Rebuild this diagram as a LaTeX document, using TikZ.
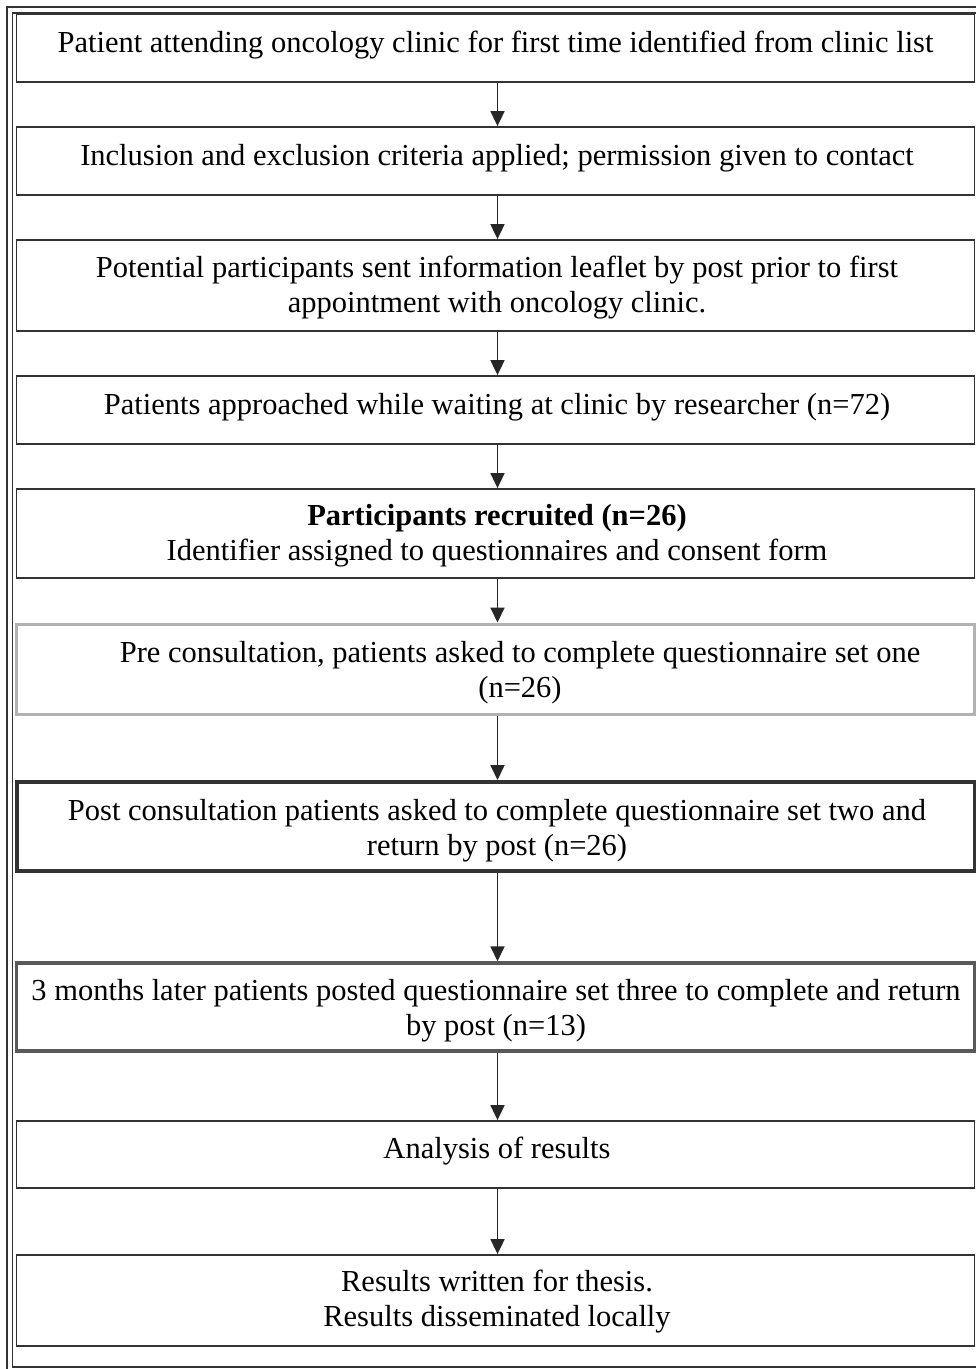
\documentclass[tikz,border=0pt]{standalone}
\usepackage{fontspec}
\setmainfont{Liberation Serif}
\usetikzlibrary{arrows.meta}
\begin{document}
\begin{tikzpicture}[x=1pt,y=-1pt,
  box/.style={draw=black!80,line width=1.8pt,rectangle,minimum width=958pt,inner sep=0pt},
  txt/.style={font=\fontsize{30.5}{35}\selectfont,align=center,inner sep=0pt},
  flow/.style={draw=black!85,line width=1.8pt,-{Triangle[length=15pt,width=14pt]}}]
\useasboundingbox (0,0) rectangle (976,1369);
\fill[white] (0,0) rectangle (976,1369);
% outer double frame
\draw[black!80,line width=1.8pt] (7,7) rectangle (990,1380);
\draw[black!80,line width=1.8pt] (12.5,13) rectangle (984,1367);
% boxes
\node[box,minimum height=68pt] (b1) at (495.5,48) {};
\node[box,minimum height=68pt] (b2) at (495.5,161) {};
\node[box,minimum height=91pt] (b3) at (495.5,285.5) {};
\node[box,minimum height=68pt] (b4) at (495.5,410) {};
\node[box,minimum height=89pt] (b5) at (495.5,533.5) {};
\node[box,draw=black!30,line width=3pt,minimum height=90pt] (b6) at (495.5,669) {};
\node[box,draw=black!80,line width=4pt,minimum height=89pt] (b7) at (495.5,826.5) {};
\node[box,draw=black!65,line width=3.5pt,minimum height=88pt] (b8) at (495.5,1007) {};
\node[box,minimum height=67pt] (b9) at (495.5,1154.5) {};
\node[box,minimum height=91pt] (b10) at (495.5,1300.5) {};
% texts
\node[txt] (t1) at (495.5,45) {Patient attending oncology clinic for first time identified from clinic list};
\node[txt] (t2) at (497,158) {Inclusion and exclusion criteria applied; permission given to contact};
\node[txt] (t3) at (497,288) {Potential participants sent information leaflet by post prior to first\\appointment with oncology clinic.};
\node[txt] (t4) at (497,407) {Patients approached while waiting at clinic by researcher (n=72)};
\node[txt] (t5) at (497,536) {\textbf{Participants recruited (n=26)}\\Identifier assigned to questionnaires and consent form};
\node[txt] (t6) at (520,673) {Pre consultation, patients asked to complete questionnaire set one\\(n=26)};
\node[txt] (t7) at (497,831) {Post consultation patients asked to complete questionnaire set two and\\return by post (n=26)};
\node[txt] (t8) at (496,1011) {3 months later patients posted questionnaire set three to complete and return\\by post (n=13)};
\node[txt] (t9) at (497,1151) {Analysis of results};
\node[txt] (t10) at (497,1302) {Results written for thesis.\\Results disseminated locally};
% arrows
\foreach \a/\b in {b1/b2,b2/b3,b3/b4,b4/b5,b5/b6,b6/b7,b7/b8,b8/b9,b9/b10}
  \draw[flow] ([xshift=2pt]\a.south) -- ([xshift=2pt]\b.north);
\end{tikzpicture}
\end{document}
